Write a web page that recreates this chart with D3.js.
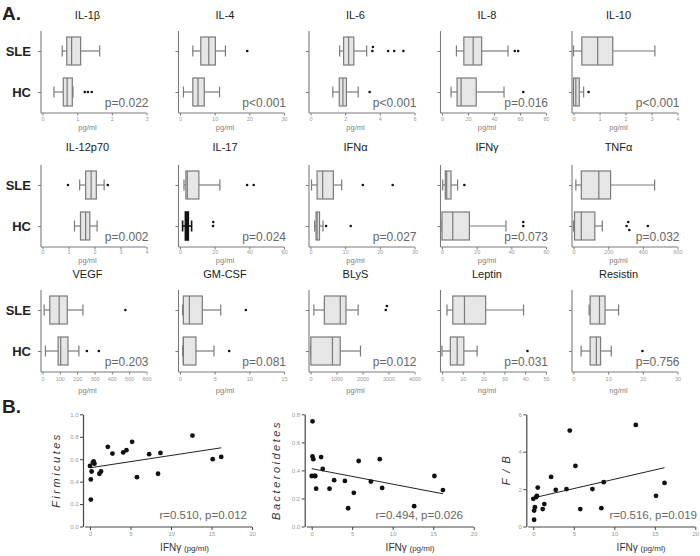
<!DOCTYPE html>
<html><head><meta charset="utf-8">
<script src="https://cdn.jsdelivr.net/npm/d3@7"></script>
<style>body{margin:0;background:#fff}svg{display:block;font-family:"Liberation Sans",Arial,sans-serif}</style>
</head><body><svg id="c" width="700" height="556"></svg>
<script>
// ---------- Data: panel A (box plots) ----------
const cytokines = ["IL-1β","IL-4","IL-6","IL-8","IL-10","IL-12p70","IL-17","IFNα","IFNγ","TNFα","VEGF","GM-CSF","BLyS","Leptin","Resistin"];
const units = ["pg/ml","pg/ml","pg/ml","pg/ml","pg/ml","pg/ml","pg/ml","pg/ml","pg/ml","pg/ml","pg/ml","pg/ml","pg/ml","ng/ml","ng/ml"];
const groups = ["SLE","HC"];
const axisMax = [3,30,6,80,4, 4,60,30,60,600, 600,15,4000,50,30];
const tickStep = [1,10,2,20,1, 1,20,10,20,200, 100,5,1000,10,10];
const pLabels = ["p=0.022","p<0.001","p<0.001","p=0.016","p<0.001","p=0.002","p=0.024","p=0.027","p=0.073","p=0.032","p=0.203","p=0.081","p=0.012","p=0.031","p=0.756"];
// [whisker low, Q1, median, Q3, whisker high]
const sleBox = [
 [0.57,0.70,0.84,1.10,1.65],[3.7,6.0,8.3,10.2,13.1],[1.68,1.91,2.2,2.5,3.24],[11.1,16.8,24,30.5,50.8],[0,0.32,0.93,1.51,3.13],
 [1.43,1.66,1.87,2.07,2.37],[2.3,3.4,4.2,10.9,23],[0.3,1.9,3.5,6.6,9.0],[0.4,1.9,2.7,5.2,9.0],[13.6,45,146,214,468],
 [9.6,42,96,143,233],[0.38,0.48,1.35,3.22,5.87],[130,532,1143,1364,1831],[2.4,5.2,10.8,21,39.2],[4.5,4.8,7.5,9.1,13]
];
const hcBox = [
 [0.33,0.60,0.71,0.86,0.88],[1.0,3.7,5.2,7.0,11.4],[1.29,1.66,1.87,2.07,2.75],[7,11.6,14.7,26.3,47.7],[0,0,0.09,0.22,0.39],
 [1.23,1.46,1.66,1.82,2.1],[1.5,3.1,3.8,4.8,6.7],[1.2,1.6,1.9,2.6,3.6],[0,0,6.2,15.8,36.9],[0,6,45,123,166],
 [17,90,105,147,210],[0.38,0.48,0.48,2.3,4.9],[13,13,844,1143,1922],[0,4,7.3,10.5,16.9],[2.2,4.8,6.6,7.8,10.9]
];
const sleOut = [[],[19.4],[3.57,3.6,4.48,4.83,5.36],[56,58.6],[],[0.98,2.51],[38.7,42.5],[15.1,23.7],[12.9],[],[478],[9.5],[2896,2940],[],[]];
const hcOut = [[1.22,1.31,1.42],[],[3.41],[62.5],[0.58],[],[19.1,19.2],[4.5,11.6],[46.9,46.9],[306,316,322,429],[256,325],[7.1],[],[41.1],[19.9]];

// ---------- Data: panel B (scatter plots) ----------
const ifng = [0.0,0.1,0.1,0.2,0.35,0.45,0.55,1.16,1.36,2.2,2.77,4.1,4.5,5.2,5.8,7.3,8.4,8.7,12.65,15.15,16.2];
const firmicutes = [0.54,0.42,0.24,0.49,0.57,0.58,0.56,0.47,0.49,0.71,0.65,0.66,0.68,0.755,0.44,0.645,0.47,0.656,0.81,0.60,0.62];
const bacteroidetes = [0.36,0.50,0.75,0.48,0.36,0.36,0.27,0.495,0.41,0.27,0.33,0.325,0.13,0.24,0.467,0.32,0.48,0.275,0.145,0.36,0.26];
const fbRatio = [1.48,0.85,0.36,1.03,1.57,1.64,2.08,0.93,1.2,2.65,1.96,2.0,5.13,3.24,0.93,2.0,0.98,2.37,5.43,1.64,2.33];
const scatterYLabels = ["Firmicutes","Bacteroidetes","F / B"];
const scatterYMax = [1.0,0.8,6];
const scatterYStep = [0.2,0.2,2];
const scatterXTicks = [0,5,10,15,20];
const corrLabels = ["r=0.510, p=0.012","r=0.494, p=0.026","r=0.516, p=0.019"];

// ---------- Drawing ----------
const svg = d3.select("#c");
const AX = "#7a7a7a";
svg.append("text").attr("x",2).attr("y",20).attr("font-size",19).attr("font-weight","bold").attr("fill","#222").text("A.");
svg.append("text").attr("x",2).attr("y",413).attr("font-size",19).attr("font-weight","bold").attr("fill","#222").text("B.");

const colX0 = [42.5,180,310.5,442,573.5];
const axisW = 104;
const rowBottom = [113,247,372];
const titleY = [19,151,278];
const unitY = [130,263,393];
const tickPad = [1.5,0.5,2.5];
const boxH = 28, capH = 11;

cytokines.forEach((name,i)=>{
  const r = Math.floor(i/5), c = i%5;
  const x0 = colX0[c], bottom = rowBottom[r];
  const x = d3.scaleLinear().domain([0,axisMax[i]]).range([x0,x0+axisW]);
  const y = d3.scalePoint().domain(groups).range([bottom-62,bottom-21]);
  const g = svg.append("g");

  // y axis
  g.append("line").attr("x1",x0-1.5).attr("x2",x0-1.5).attr("y1",bottom-82).attr("y2",bottom).attr("stroke",AX).attr("stroke-width",1.1);
  const ya = g.append("g").attr("transform",`translate(${x0-1.5},0)`)
    .call(d3.axisLeft(y).tickSize(3).tickPadding(c===0?7:3).tickFormat(c===0?(d=>d):""));
  ya.select(".domain").remove();
  ya.selectAll(".tick line").attr("stroke",AX);
  ya.selectAll(".tick text").attr("font-size",13).attr("font-weight","bold").attr("fill","#222").attr("font-family","Liberation Sans, Arial, sans-serif");

  // x axis
  g.append("line").attr("x1",x0-1.5).attr("x2",x0+axisW).attr("y1",bottom).attr("y2",bottom).attr("stroke",AX).attr("stroke-width",1.1);
  const xa = g.append("g").attr("transform",`translate(0,${bottom})`)
    .call(d3.axisBottom(x).tickValues(d3.range(0,axisMax[i]+tickStep[i]/2,tickStep[i])).tickSize(2.5).tickPadding(tickPad[r]).tickFormat(d3.format("d")));
  xa.select(".domain").remove();
  xa.selectAll(".tick line").attr("stroke",AX);
  xa.selectAll(".tick text").attr("font-size",5.5).attr("fill","#999").attr("font-family","Liberation Sans, Arial, sans-serif");

  // title, unit, p
  g.append("text").attr("x",x0+axisW/2-7).attr("y",titleY[r]).attr("text-anchor","middle").attr("font-size",11).attr("fill","#1a1a1a").text(name);
  g.append("text").attr("x",x0+axisW/2-7).attr("y",unitY[r]).attr("text-anchor","middle").attr("font-size",7.5).attr("fill","#808080").text(units[i]);
  g.append("text").attr("x",x0+axisW+2).attr("y",bottom-6).attr("text-anchor","end").attr("font-size",12).attr("fill","#666").text(pLabels[i]);

  // boxes
  [[sleBox[i],sleOut[i],"SLE"],[hcBox[i],hcOut[i],"HC"]].forEach(([s,outs,grp])=>{
    const cy = y(grp);
    const [lo,q1,md,q3,hi] = s;
    const narrow = x(q3)-x(q1) < 3.2;
    const bg = g.append("g").attr("stroke",narrow?"#111":"#7a7a7a").attr("stroke-width",narrow?1.6:1.2);
    bg.append("line").attr("x1",x(lo)).attr("x2",x(q1)).attr("y1",cy).attr("y2",cy);
    bg.append("line").attr("x1",x(q3)).attr("x2",x(hi)).attr("y1",cy).attr("y2",cy);
    bg.append("line").attr("x1",x(lo)).attr("x2",x(lo)).attr("y1",cy-capH/2).attr("y2",cy+capH/2);
    bg.append("line").attr("x1",x(hi)).attr("x2",x(hi)).attr("y1",cy-capH/2).attr("y2",cy+capH/2);
    bg.append("rect").attr("x",x(q1)).attr("y",cy-boxH/2).attr("width",Math.max(0.5,x(q3)-x(q1))).attr("height",boxH).attr("fill",narrow?"#111":"#e6e6e6");
    bg.append("line").attr("x1",x(md)).attr("x2",x(md)).attr("y1",cy-boxH/2).attr("y2",cy+boxH/2);
    const placed = [];
    outs.forEach(v=>{
      const px = x(v);
      const n = placed.filter(p=>Math.abs(p-px)<3).length;
      placed.push(px);
      const dy = [0,-4,4,-8][n] || 0;
      g.append("circle").attr("cx",px).attr("cy",cy+dy).attr("r",1.3).attr("fill","#111");
    });
  });
});

// ---------- Scatter plots ----------
const scX0 = [90,311.7,533.3];
const scW = 162;
const yLabelX = [60,280,510];
const corrRight = [247,463,697];
const xLabelX = [184.5,410,641];
const scSeries = [firmicutes,bacteroidetes,fbRatio];

scSeries.forEach((ys,k)=>{
  const x0 = scX0[k];
  const x = d3.scaleLinear().domain([0,20]).range([x0,x0+scW]);
  const y = d3.scaleLinear().domain([0,scatterYMax[k]]).range([526.5,414.3]);
  const g = svg.append("g");
  const yt = d3.range(0,scatterYMax[k]+scatterYStep[k]/2,scatterYStep[k]);
  const ya = g.append("g").attr("transform",`translate(${x0-7},0)`)
    .call(d3.axisLeft(y).tickValues(yt).tickSize(3).tickPadding(1.5).tickSizeOuter(0).tickFormat(k<2?d3.format(".1f"):d3.format("d")));
  ya.select(".domain").attr("stroke","#444").attr("stroke-width",1.2);
  ya.selectAll(".tick line").attr("stroke","#444");
  ya.selectAll(".tick text").attr("font-size",6).attr("fill","#999").attr("font-family","Liberation Sans, Arial, sans-serif");

  g.append("line").attr("x1",x0-5).attr("x2",x(20)).attr("y1",527).attr("y2",527).attr("stroke","#444").attr("stroke-width",1.2);
  const xa = g.append("g").attr("transform","translate(0,527)")
    .call(d3.axisBottom(x).tickValues(scatterXTicks).tickSize(3).tickPadding(1.5).tickFormat(d3.format("d")));
  xa.select(".domain").remove();
  xa.selectAll(".tick line").attr("stroke","#444");
  xa.selectAll(".tick text").attr("font-size",6).attr("fill","#999").attr("font-family","Liberation Sans, Arial, sans-serif");

  // regression line (least squares)
  const mx = d3.mean(ifng), my = d3.mean(ys);
  let sxy=0, sxx=0;
  ifng.forEach((v,j)=>{sxy+=(v-mx)*(ys[j]-my); sxx+=(v-mx)*(v-mx);});
  const b = sxy/sxx, a = my-b*mx;
  const [xmin,xmax] = d3.extent(ifng);
  g.append("line").attr("x1",x(xmin)).attr("x2",x(xmax)).attr("y1",y(a+b*xmin)).attr("y2",y(a+b*xmax)).attr("stroke","#222").attr("stroke-width",1);

  g.selectAll("circle").data(ifng).join("circle")
    .attr("cx",d=>x(d)).attr("cy",(d,j)=>y(ys[j])).attr("r",2.4).attr("fill","#111");

  g.append("text").attr("x",corrRight[k]).attr("y",519).attr("text-anchor","end").attr("font-size",11.5).attr("fill","#666").text(corrLabels[k]);
  const xl = g.append("text").attr("x",xLabelX[k]).attr("y",551).attr("text-anchor","middle").attr("fill","#333");
  xl.append("tspan").attr("font-size",10).text("IFNγ ");
  xl.append("tspan").attr("font-size",8).text("(pg/ml)");
  g.append("text").attr("transform",`translate(${yLabelX[k]},470) rotate(-90)`).attr("text-anchor","middle")
    .attr("font-size",11).attr("font-style","italic").attr("letter-spacing",k===2?1.5:2.5).attr("fill","#333").text(scatterYLabels[k]);
});
</script></body></html>
